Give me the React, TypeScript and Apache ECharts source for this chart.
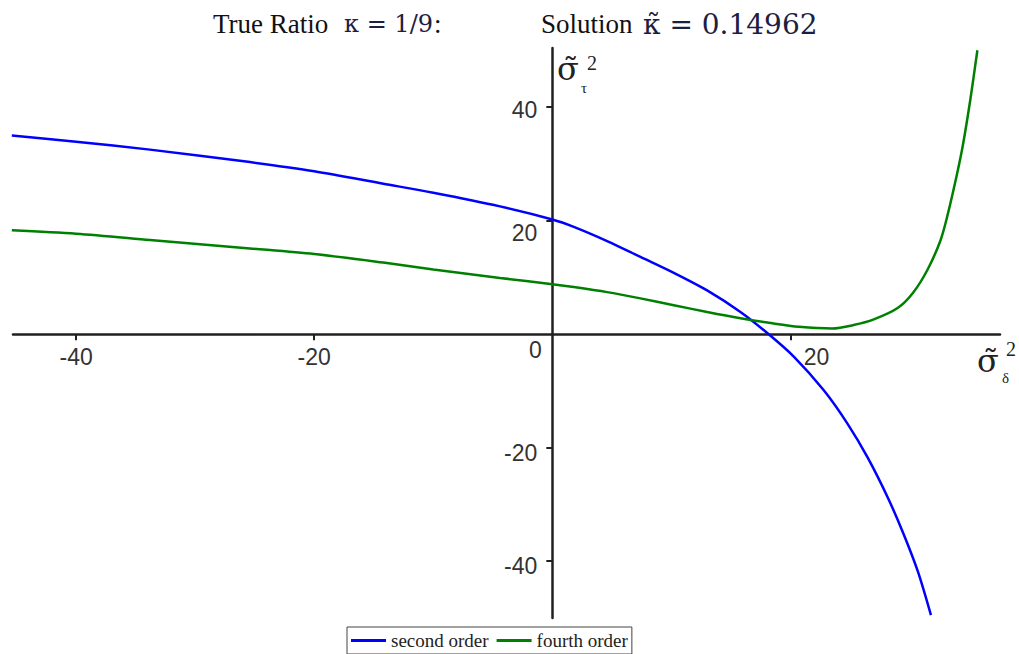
import React, { useEffect, useRef } from "react";
import * as echarts from "echarts";

const xSecond = [-45.4, -40, -33.8, -25.4, -20, -14.2, -10, -4.4, 0, 1.8, 4.6, 7.4, 10.2, 13, 15.8, 18.1, 20.3, 22.8, 24.8, 26.5, 28.2, 29.5, 30.7, 31.8];
const ySecond = [35.0, 33.9, 32.5, 30.3, 28.7, 26.5, 24.9, 22.5, 20.2, 18.9, 16.4, 13.6, 10.8, 7.7, 3.9, 0.1, -4.0, -9.9, -15.8, -21.8, -28.9, -35.2, -41.8, -49.5];

const xFourth = [-45.4, -40, -33.8, -25.4, -20, -14.2, -10, -4.4, 0, 1.8, 4.6, 7.4, 10.2, 13, 15.8, 18.5, 20.7, 23.5, 25.3, 27, 29, 30.3, 31.5, 32.6, 33.2, 34, 34.5, 35.1, 35.7];
const yFourth = [18.3, 17.7, 16.6, 15.1, 14.1, 12.6, 11.4, 9.9, 8.8, 8.3, 7.4, 6.3, 5.1, 3.9, 2.8, 1.9, 1.3, 1.0, 1.6, 2.6, 4.6, 7.3, 11.3, 16.5, 21.0, 28.3, 33.5, 41.2, 50.0];

const xTickLabels = [-40, -20, 0, 20];
const xTicks = [-40, -20, 20];
const yTickLabels = [-40, -20, 20, 40];

const seriesNames = ["second order", "fourth order"];

export default function App() {
  const ref = useRef<HTMLDivElement>(null);
  useEffect(() => {
    if (!ref.current) return;
    const chart = echarts.init(ref.current, undefined, { renderer: "svg" });
    const pair = (xs: number[], ys: number[]) => xs.map((x, i) => [x, ys[i]]);
    const serif = "Liberation Serif";
    const axisColor = "#221f1f";
    chart.setOption({
      animation: false,
      backgroundColor: "#ffffff",
      legend: {
        left: 347,
        top: 627,
        data: seriesNames,
        icon: "rect",
        itemWidth: 35,
        itemHeight: 3,
        itemGap: 8,
        padding: [4, 4, 4, 4],
        borderColor: "#444",
        borderWidth: 1,
        textStyle: { fontFamily: serif, fontSize: 19, color: "#222" },
      },
      grid: { left: 13, right: 19, top: 48, bottom: 36, containLabel: false, outerBoundsMode: "none" },
      xAxis: {
        type: "value",
        min: -45.3,
        max: 37.6,
        axisLine: { onZero: true, lineStyle: { color: axisColor, width: 2.5 } },
        axisTick: { show: true, customValues: xTicks, length: 6, lineStyle: { color: axisColor, width: 2 } },
        axisLabel: { show: false },
        splitLine: { show: false },
      },
      yAxis: {
        type: "value",
        min: -50,
        max: 50.4,
        axisLine: { onZero: true, lineStyle: { color: axisColor, width: 2.5 } },
        axisTick: { show: true, customValues: yTickLabels, length: 6, lineStyle: { color: axisColor, width: 2 } },
        axisLabel: { show: false },
        splitLine: { show: false },
      },
      series: [
        {
          name: seriesNames[0],
          type: "line",
          data: pair(xSecond, ySecond),
          showSymbol: false,
          smooth: 0.3,
          lineStyle: { color: "#0000ff", width: 2.5 },
          itemStyle: { color: "#0000ff" },
        },
        {
          name: seriesNames[1],
          type: "line",
          data: pair(xFourth, yFourth),
          showSymbol: false,
          smooth: 0.3,
          lineStyle: { color: "#008000", width: 2.5 },
          itemStyle: { color: "#008000" },
        },
      ],
    });

    const toPx = (x: number, y: number) => chart.convertToPixel({ gridIndex: 0 }, [x, y]) as number[];
    const labelFont = "23px 'Liberation Sans'";
    const labelColor = "#333";
    const xLabelEls = xTickLabels.map((v) => {
      const p = toPx(v, 0);
      const dx = v === 0 ? -17 : v === 20 ? 26 : 0;
      const dy = v === 0 ? 16 : 23;
      return {
        type: "text",
        x: p[0] + dx,
        y: p[1] + dy,
        style: { text: String(v), font: labelFont, fill: labelColor, align: "center", verticalAlign: "middle" },
      };
    });
    const yLabelEls = yTickLabels.map((v) => {
      const p = toPx(0, v);
      const dy = v === 20 ? 12 : v === 40 ? 3 : 5;
      return {
        type: "text",
        x: p[0] - 15,
        y: p[1] + dy,
        style: { text: String(v), font: labelFont, fill: labelColor, align: "right", verticalAlign: "middle" },
      };
    });
    const math = "#1c2040";
    const titleEls = [
      { type: "text", x: 213, y: 24, style: { text: "True Ratio", font: "27px 'Liberation Serif'", fill: "#111", verticalAlign: "middle" } },
      { type: "text", x: 344, y: 24, style: { text: "κ = 1/9", font: "24px 'DejaVu Serif'", fill: math, verticalAlign: "middle" } },
      { type: "text", x: 434, y: 24, style: { text: ":", font: "27px 'Liberation Serif'", fill: "#111", verticalAlign: "middle" } },
      { type: "text", x: 541, y: 24, style: { text: "Solution", font: "27px 'Liberation Serif'", fill: "#111", verticalAlign: "middle" } },
      { type: "text", x: 643, y: 24, style: { text: "κ̃ = 0.14962", font: "28px 'DejaVu Serif'", fill: math, verticalAlign: "middle" } },
    ];
    const nameEls = [
      { type: "text", x: 557, y: 53, style: { text: "σ̃", font: "32px 'DejaVu Serif'", fill: "#222" } },
      { type: "text", x: 581, y: 80, style: { text: "τ", font: "15px 'Liberation Serif'", fill: "#222" } },
      { type: "text", x: 587, y: 53, style: { text: "2", font: "20px 'Liberation Serif'", fill: "#222" } },
      { type: "text", x: 977, y: 345, style: { text: "σ̃", font: "32px 'DejaVu Serif'", fill: "#222" } },
      { type: "text", x: 1002, y: 370, style: { text: "δ", font: "15px 'Liberation Serif'", fill: "#222" } },
      { type: "text", x: 1006, y: 339, style: { text: "2", font: "20px 'Liberation Serif'", fill: "#222" } },
    ];
    chart.setOption({ graphic: [...titleEls, ...xLabelEls, ...yLabelEls, ...nameEls] });
    return () => chart.dispose();
  }, []);
  return <div ref={ref} style={{ width: 1019, height: 654, position: "absolute", left: 0, top: 0 }} />;
}
